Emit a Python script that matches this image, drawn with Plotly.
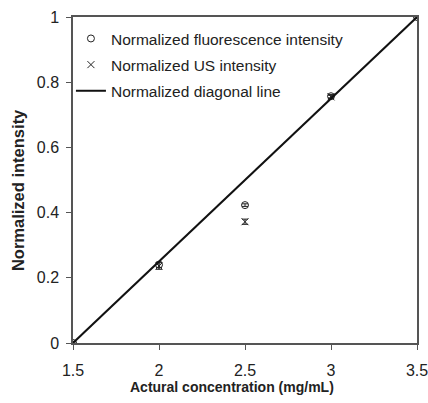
import plotly.graph_objects as go

conc = [1.5, 2.0, 2.5, 3.0, 3.5]
fluor = [0.0, 0.240, 0.423, 0.757, 1.0]
fluor_err = [0.004, 0.008, 0.004, 0.005, 0.004]
us = [0.0, 0.236, 0.372, 0.755, 1.0]
us_err = [0.004, 0.010, 0.008, 0.005, 0.004]
diag_x = [1.5, 3.5]
diag_y = [0.0, 1.0]

x_ticks = [1.5, 2, 2.5, 3, 3.5]
x_ticktext = ["1.5", "2", "2.5", "3", "3.5"]
y_ticks = [0, 0.2, 0.4, 0.6, 0.8, 1]
y_ticktext = ["0", "0.2", "0.4", "0.6", "0.8", "1"]
x_title = "Actural concentration (mg/mL)"
y_title = "Normalized intensity"

FONT = "Liberation Sans, Arial, sans-serif"

fig = go.Figure()
fig.add_trace(go.Scatter(
    x=conc, y=fluor, mode="markers", name="Normalized fluorescence intensity",
    legendgroup="a",
    marker=dict(symbol="circle-open", size=7, color="#222", line=dict(width=1)),
    error_y=dict(type="data", array=fluor_err, color="#222", thickness=1, width=3),
))
fig.add_trace(go.Scatter(
    x=conc, y=us, mode="markers", name="Normalized US intensity",
    legendgroup="b",
    marker=dict(symbol="x-thin-open", size=7, color="#222", line=dict(width=1, color="#222")),
    error_y=dict(type="data", array=us_err, color="#222", thickness=1, width=3),
))
fig.add_trace(go.Scatter(
    x=diag_x, y=diag_y, mode="lines", name="Normalized diagonal line",
    legendgroup="c",
    line=dict(color="#111", width=2),
))

fig.update_layout(
    width=428, height=403,
    margin=dict(l=73, r=11, t=17, b=60, autoexpand=False),
    paper_bgcolor="white", plot_bgcolor="white",
    font=dict(family=FONT, size=15, color="#222"),
    showlegend=True,
    legend=dict(x=-0.006, y=0.985, xanchor="left", yanchor="top",
                bgcolor="rgba(0,0,0,0)", font=dict(size=15.5, color="#222"),
                itemwidth=30, tracegroupgap=3, traceorder="grouped"),
    xaxis=dict(range=[1.5, 3.5], tickvals=x_ticks, ticktext=x_ticktext,
               showgrid=False, zeroline=False, showline=True, linecolor="#555",
               linewidth=1.5, mirror=True, ticks="outside", ticklen=5, tickcolor="#555",
               automargin=False, ticklabelstandoff=7, ticklabeloverflow="allow",
               tickfont=dict(size=16)),
    yaxis=dict(range=[0, 1], tickvals=y_ticks, ticktext=y_ticktext,
               showgrid=False, zeroline=False, showline=True, linecolor="#555",
               linewidth=1.5, mirror=True, ticks="outside", ticklen=5, tickcolor="#555",
               automargin=False, ticklabelstandoff=4, ticklabeloverflow="allow",
               tickfont=dict(size=16)),
    annotations=[
        dict(text="<b>" + x_title + "</b>", xref="paper", yref="paper",
             x=0.462, y=-0.136, xanchor="center", yanchor="middle", showarrow=False,
             font=dict(size=14, color="#222")),
        dict(text="<b>" + y_title + "</b>", xref="paper", yref="paper",
             x=-0.16, y=0.469, xanchor="center", yanchor="middle", showarrow=False,
             textangle=-90, font=dict(size=16.5, color="#222")),
    ],
)

fig.write_html("out.html")
